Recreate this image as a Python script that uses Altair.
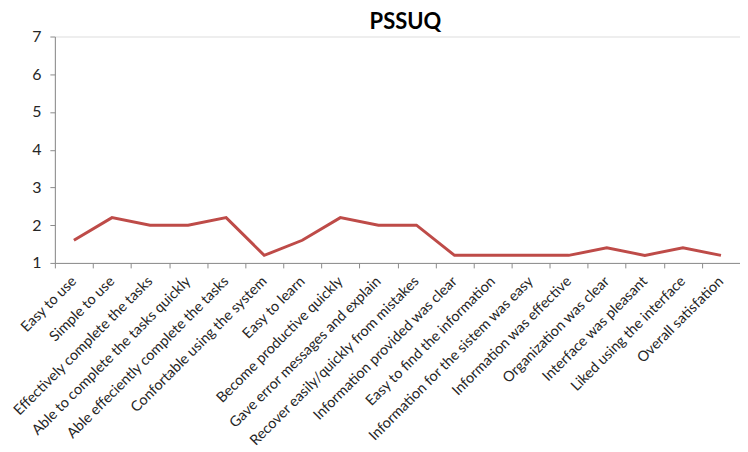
import altair as alt
import pandas as pd

categories = [
    "Easy to use",
    "Simple to use",
    "Effectively complete the tasks",
    "Able to complete the tasks quickly",
    "Able effeciently complete the tasks",
    "Confortable using the system",
    "Easy to learn",
    "Become productive quickly",
    "Gave error messages and explain",
    "Recover easily/quickly from mistakes",
    "Information provided was clear",
    "Easy to find the information",
    "Information for the sistem was easy",
    "Information was effective",
    "Organization was clear",
    "Interface was pleasant",
    "Liked using the interface",
    "Overall satisfation",
]
values = [1.6, 2.2, 2.0, 2.0, 2.2, 1.2, 1.6, 2.2, 2.0, 2.0,
          1.2, 1.2, 1.2, 1.2, 1.4, 1.2, 1.4, 1.2]
y_ticks = [1, 2, 3, 4, 5, 6, 7]

df = pd.DataFrame({"item": categories, "score": values})

FONT = "Lato"
AXIS_GRAY = "#8c8c8c"
TEXT = "#262626"

chart = (
    alt.Chart(df)
    .mark_line(color="#BE4B48", strokeWidth=3)
    .encode(
        x=alt.X(
            "item:N",
            sort=categories,
            bandPosition=0.5,
            scale=alt.Scale(type="band", paddingInner=0, paddingOuter=0),
            axis=alt.Axis(
                title=None,
                labelAngle=-45,
                labelAlign="right",
                labelBaseline="middle",
                labelFont=FONT,
                labelFontSize=14.5,
                labelColor=TEXT,
                labelPadding=11,
                labelOverlap=False,
                labelLimit=400,
                tickBand="extent",
                tickSize=5,
                tickColor=AXIS_GRAY,
                domainColor=AXIS_GRAY,
                grid=False,
            ),
        ),
        y=alt.Y(
            "score:Q",
            scale=alt.Scale(domain=[1, 7], nice=False, zero=False),
            axis=alt.Axis(
                title=None,
                values=y_ticks,
                labelFont=FONT,
                labelFontSize=16,
                labelColor=TEXT,
                labelPadding=9,
                tickSize=5,
                tickColor=AXIS_GRAY,
                domainColor=AXIS_GRAY,
                grid=False,
            ),
        ),
    )
    .properties(
        width=687,
        height=227,
        title=alt.TitleParams(
            "PSSUQ",
            font=FONT,
            fontSize=22,
            fontWeight="bold",
            color="#000000",
            anchor="middle",
            dx=8,
            dy=11,
            offset=6,
        ),
        autosize=alt.AutoSizeParams(type="none"),
        padding={"left": 47, "top": 28, "right": 0, "bottom": 188},
    )
    .configure_view(stroke=None)
    .configure(background="white")
)

chart.save("out.html", embed_options={"renderer": "svg", "actions": False})
